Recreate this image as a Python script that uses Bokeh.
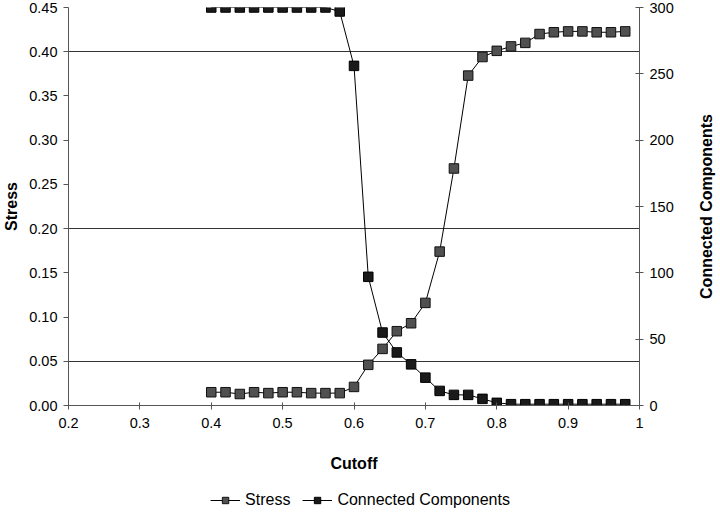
import math
from bokeh.plotting import figure
from bokeh.layouts import row, column
from bokeh.models import (Range1d, LinearAxis, FixedTicker, Legend, LegendItem, Label,
                          CustomJSTickFormatter, NumeralTickFormatter)
from bokeh.embed import file_html
from bokeh.resources import INLINE

# ---- data ----
cutoff = [0.40, 0.42, 0.44, 0.46, 0.48, 0.50, 0.52, 0.54, 0.56, 0.58,
          0.60, 0.62, 0.64, 0.66, 0.68, 0.70, 0.72, 0.74, 0.76, 0.78,
          0.80, 0.82, 0.84, 0.86, 0.88, 0.90, 0.92, 0.94, 0.96, 0.98]
stress = [0.015, 0.015, 0.013, 0.015, 0.014, 0.015, 0.015, 0.014, 0.014, 0.014,
          0.021, 0.046, 0.064, 0.084, 0.093, 0.116, 0.174, 0.268, 0.373, 0.394,
          0.401, 0.406, 0.410, 0.420, 0.422, 0.423, 0.423, 0.422, 0.422, 0.423]
components = [300, 300, 300, 300, 300, 300, 300, 300, 300, 297,
              256, 97, 55, 40, 31, 21, 11, 8, 8, 5,
              2, 1, 1, 1, 1, 1, 1, 1, 1, 1]
x_ticks = [0.2, 0.3, 0.4, 0.5, 0.6, 0.7, 0.8, 0.9, 1.0]
stress_ticks = [0.0, 0.05, 0.10, 0.15, 0.20, 0.25, 0.30, 0.35, 0.40, 0.45]
cc_ticks = [0, 50, 100, 150, 200, 250, 300]
reference_lines = [0.05, 0.20, 0.40]
series_names = ["Stress", "Connected Components"]
right_title = "Connected Components"

FONT = "Liberation Sans"
FRAME_H = 398
TOP = 7
STRESS_FILL = "#505050"
CC_FILL = "#1a1a1a"


def style_series(fig):
    l1 = fig.line(cutoff, stress, line_color="black", line_width=1)
    s1 = fig.scatter(cutoff, stress, marker="square", size=9.5, fill_color=STRESS_FILL,
                     line_color="#111111", line_width=1)
    l2 = fig.line(cutoff, components, y_range_name="cc", line_color="black", line_width=1)
    s2 = fig.scatter(cutoff, components, y_range_name="cc", marker="square", size=9.5,
                     fill_color=CC_FILL, line_color="#000000", line_width=1)
    return (l1, s1), (l2, s2)


p = figure(frame_width=571, frame_height=FRAME_H, output_backend="svg", toolbar_location=None,
           x_range=Range1d(0.2, 1.0), y_range=Range1d(0, 0.45),
           min_border_left=61, min_border_right=52, min_border_top=TOP,
           min_border_bottom=82)
p.outline_line_color = None
p.background_fill_color = "white"
p.border_fill_color = "white"

p.xgrid.visible = False
p.ygrid.ticker = FixedTicker(ticks=reference_lines)
p.ygrid.grid_line_color = "#333333"
p.ygrid.grid_line_width = 1.2

p.extra_y_ranges = {"cc": Range1d(0, 300)}

# axes
xa = p.xaxis[0]
xa.ticker = FixedTicker(ticks=x_ticks)
xa.formatter = CustomJSTickFormatter(code="return (Math.abs(tick-1)<1e-9) ? '1' : tick.toFixed(1);")
xa.axis_label = "Cutoff"
xa.minor_tick_line_color = None
xa.major_tick_in = 3
xa.major_tick_out = 4
xa.major_label_standoff = 8
xa.axis_label_standoff = 24

ya = p.yaxis[0]
ya.ticker = FixedTicker(ticks=stress_ticks)
ya.formatter = NumeralTickFormatter(format="0.00")
ya.axis_label = "Stress"
ya.minor_tick_line_color = None
ya.major_tick_in = 0
ya.major_tick_out = 5
ya.major_label_standoff = 6
ya.axis_label_standoff = 6

ra = LinearAxis(y_range_name="cc", ticker=FixedTicker(ticks=cc_ticks))
ra.minor_tick_line_color = None
ra.major_tick_in = 4
ra.major_tick_out = 4
ra.major_label_standoff = 6
p.add_layout(ra, "right")

for ax in (xa, ya, ra):
    ax.axis_line_color = "#555555"
    ax.major_tick_line_color = "#555555"
    ax.major_label_text_font = FONT
    ax.major_label_text_font_size = "14.5px"
    ax.major_label_text_color = "black"
    ax.axis_label_text_font = FONT
    ax.axis_label_text_font_size = "16px"
    ax.axis_label_text_font_style = "bold"
    ax.axis_label_text_color = "black"

style_series(p)

# narrow strip carrying the right-hand axis title (reads bottom-to-top)
side = figure(frame_width=29, frame_height=FRAME_H, output_backend="svg", toolbar_location=None,
              x_range=Range1d(0, 1), y_range=Range1d(0, 1),
              min_border_left=0, min_border_right=0, min_border_top=TOP, min_border_bottom=0,
              x_axis_location=None, y_axis_location=None)
side.outline_line_color = None
side.xgrid.visible = False
side.ygrid.visible = False
side.add_layout(Label(x=0.5, y=0.5, text=right_title, angle=math.pi / 2,
                      text_align="center", text_baseline="middle",
                      text_font=FONT, text_font_size="16px", text_font_style="bold",
                      text_color="black"))

# legend strip: same series, drawn outside its visible range, only the legend shows
leg = figure(width=720, height=25, output_backend="svg", toolbar_location=None,
             x_range=Range1d(0.2, 1.0), y_range=Range1d(-2, -1),
             min_border_left=0, min_border_right=0, min_border_top=0, min_border_bottom=0,
             x_axis_location=None, y_axis_location=None)
leg.outline_line_color = None
leg.xgrid.visible = False
leg.ygrid.visible = False
leg.extra_y_ranges = {"cc": Range1d(-2, -1)}
r_stress, r_cc = style_series(leg)

legend = Legend(items=[LegendItem(label=series_names[0], renderers=list(r_stress)),
                       LegendItem(label=series_names[1], renderers=list(r_cc))],
                orientation="horizontal", location="center")
legend.label_text_font = FONT
legend.label_text_font_size = "16px"
legend.label_text_color = "black"
legend.glyph_width = 30
legend.glyph_height = 16
legend.label_standoff = 5
legend.spacing = 12
legend.padding = 0
legend.margin = 0
legend.border_line_color = None
legend.background_fill_alpha = 0
leg.add_layout(legend)

layout = column(row(p, side, spacing=0), leg, spacing=0)
open("out.html", "w").write(file_html(layout, INLINE))
